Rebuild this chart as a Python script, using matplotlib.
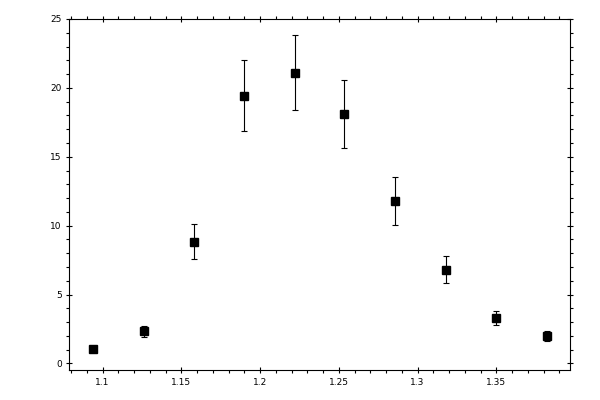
import matplotlib
matplotlib.use("Agg")
import matplotlib.pyplot as plt
from matplotlib.ticker import MultipleLocator, FixedLocator

x = [1.0937, 1.1261, 1.1578, 1.1895, 1.2219, 1.2536, 1.2860, 1.3178, 1.3498, 1.3819]
y = [1.02, 2.33, 8.82, 19.42, 21.09, 18.11, 11.78, 6.79, 3.27, 1.96]
yerr = [0.22, 0.41, 1.27, 2.58, 2.73, 2.47, 1.72, 0.98, 0.51, 0.36]
xticks = [1.1, 1.15, 1.2, 1.25, 1.3, 1.35]
xticklabels = ["1.1", "1.15", "1.2", "1.25", "1.3", "1.35"]
yticks = [0, 5, 10, 15, 20, 25]
yticklabels = ["0", "5", "10", "15", "20", "25"]

fig = plt.figure(figsize=(6, 4), dpi=100)
ax = fig.add_axes([0.1158, 0.075, 0.9505 - 0.1158, 0.9525 - 0.075])
ax.errorbar(x, y, yerr=yerr, fmt='s', color='black', ms=5.8, elinewidth=0.8,
            capsize=2.0, capthick=0.8)
ax.set_xlim(1.079, 1.397)
ax.set_ylim(-0.48, 25)
ax.xaxis.set_major_locator(FixedLocator(xticks))
ax.set_xticklabels(xticklabels)
ax.yaxis.set_major_locator(FixedLocator(yticks))
ax.set_yticklabels(yticklabels)
ax.xaxis.set_minor_locator(MultipleLocator(0.01))
ax.yaxis.set_minor_locator(MultipleLocator(1))
for s in ax.spines.values():
    s.set_linewidth(0.8)
ax.tick_params(which='major', direction='inout', length=5, width=0.8, labelsize=6.5,
               top=True, right=True, pad=3)
ax.tick_params(which='minor', direction='out', length=2.5, width=0.8, top=True, right=True)
fig.savefig("out.png", dpi=100)
